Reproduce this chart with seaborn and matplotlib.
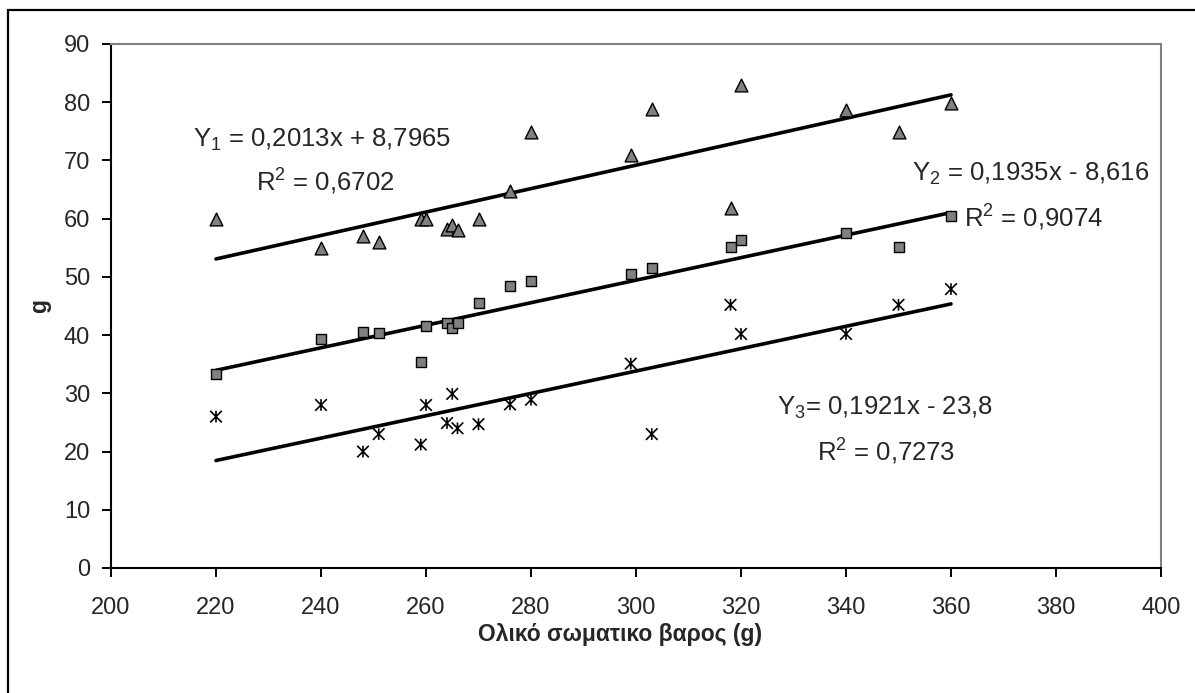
import matplotlib
matplotlib.use('Agg')
import matplotlib.pyplot as plt
from matplotlib.path import Path
from matplotlib.patches import Rectangle
import seaborn as sns

# body weight (g) and the three measured variables
body_weight = [220, 240, 248, 251, 259, 260, 264, 265, 266, 270, 276, 280, 299, 303, 318, 320, 340, 350, 360]
y1_vals = [60, 55, 57, 56, 60, 60, 58.2, 58.9, 58.1, 59.9, 64.8, 74.8, 71, 78.8, 61.8, 83, 78.7, 74.8, 79.9]
y2_vals = [33.3, 39.3, 40.5, 40.4, 35.3, 41.5, 42.1, 41.3, 42.1, 45.6, 48.5, 49.3, 50.5, 51.5, 55.2, 56.4, 57.5, 55.1, 60.4]
y3_vals = [26, 28, 20, 23, 21.2, 28, 24.9, 29.9, 24, 24.7, 28.1, 28.9, 35.1, 23, 45.2, 40.2, 40.2, 45.2, 47.9]

# linear trendlines as printed on the chart
slopes = [0.2013, 0.1935, 0.1921]
intercepts = [8.7965, -8.616, -23.8]
eq_labels = ['Y$_1$ = 0,2013x + 8,7965', 'Y$_2$ = 0,1935x - 8,616', 'Y$_3$= 0,1921x - 23,8']
r2_labels = ['R$^2$ = 0,6702', 'R$^2$ = 0,9074', 'R$^2$ = 0,7273']

xticks = list(range(200, 401, 20))
yticks = list(range(0, 91, 10))

# label placement (data coords, left/baseline)
eq_pos = [(215.7, 72.4), (352.5, 66.5), (326.8, 26.3)]
r2_pos = [(227.6, 64.8), (362.5, 58.6), (334.5, 18.4)]

sns.set_style('white')
plt.rcParams['font.family'] = ['Liberation Sans', 'DejaVu Sans']
plt.rcParams['mathtext.fontset'] = 'custom'
plt.rcParams['mathtext.rm'] = 'Liberation Sans'
plt.rcParams['mathtext.it'] = 'Liberation Sans:italic'
plt.rcParams['mathtext.bf'] = 'Liberation Sans:bold'
plt.rcParams['mathtext.default'] = 'regular'

fig = plt.figure(figsize=(11.95, 6.93), dpi=100)
ax = fig.add_axes([111 / 1195, 1 - 568 / 693, 1050 / 1195, 524 / 693])

# excel-like star: X with a vertical bar
star = Path([(-1, -1), (1, 1), (-1, 1), (1, -1), (0, -1), (0, 1)],
            [Path.MOVETO, Path.LINETO, Path.MOVETO, Path.LINETO, Path.MOVETO, Path.LINETO])

sns.scatterplot(x=body_weight, y=y1_vals, marker='^', s=85, color='#808080',
                edgecolor='black', linewidth=1.0, ax=ax, zorder=3)
sns.scatterplot(x=body_weight, y=y2_vals, marker='s', s=58, color='#808080',
                edgecolor='black', linewidth=1.0, ax=ax, zorder=3)
sns.scatterplot(x=body_weight, y=y3_vals, marker=star, s=70, facecolor='none',
                edgecolor='black', linewidth=1.2, ax=ax, zorder=3)

x_fit = [min(body_weight), max(body_weight)]
for a, b in zip(slopes, intercepts):
    sns.lineplot(x=x_fit, y=[a * x + b for x in x_fit], color='black', lw=2.6, ax=ax, zorder=2)

for txt, (tx, ty) in zip(eq_labels, eq_pos):
    ax.text(tx, ty, txt, fontsize=18.5, ha='left', va='baseline')
for txt, (tx, ty) in zip(r2_labels, r2_pos):
    ax.text(tx, ty, txt, fontsize=18.5, ha='left', va='baseline')

ax.set_xlim(200, 400)
ax.set_ylim(0, 90)
ax.set_xticks(xticks)
ax.set_yticks(yticks)
ax.tick_params(axis='both', direction='out', length=6.5, width=1.4, color='black',
               labelsize=17, left=True, bottom=True)
ax.tick_params(axis='x', pad=14.5)
ax.tick_params(axis='y', pad=8.5)

for side in ['left', 'bottom']:
    ax.spines[side].set_color('black')
    ax.spines[side].set_linewidth(1.5)
for side in ['top', 'right']:
    ax.spines[side].set_color('#808080')
    ax.spines[side].set_linewidth(1.5)

ax.set_xlabel('Ολικό σωματικο βαρος (g)', fontsize=16.5, fontweight='bold')
ax.xaxis.set_label_coords(0.4848, -0.1045)
ax.xaxis.label.set_va('top')
ax.set_ylabel('g', fontsize=16.5, fontweight='bold')
ax.yaxis.set_label_coords(-0.0676, 0.5)
ax.yaxis.label.set_va('center')

# outer frame of the chart object
fig.patches.append(Rectangle((8 / 1195, -0.05), 1.1, 1 - 10 / 693 + 0.05, transform=fig.transFigure,
                             fill=False, edgecolor='black', lw=1.6))

fig.savefig('out.png', dpi=100)
